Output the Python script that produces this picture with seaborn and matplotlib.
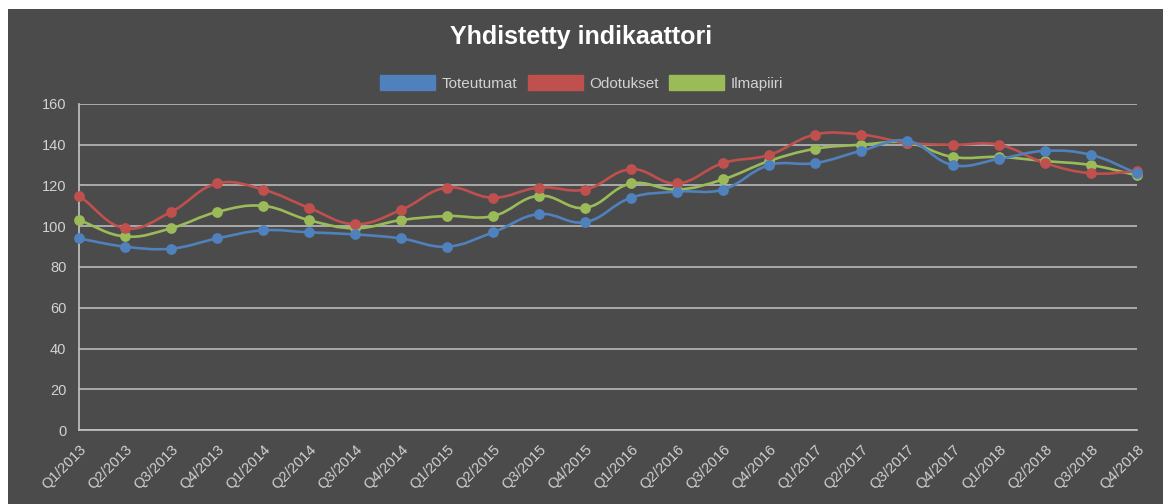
import numpy as np
import pandas as pd
import matplotlib
matplotlib.use("Agg")
import matplotlib.pyplot as plt
from matplotlib.path import Path
from matplotlib.patches import PathPatch, Patch, Rectangle
import seaborn as sns

quarters = ["Q1/2013", "Q2/2013", "Q3/2013", "Q4/2013",
            "Q1/2014", "Q2/2014", "Q3/2014", "Q4/2014",
            "Q1/2015", "Q2/2015", "Q3/2015", "Q4/2015",
            "Q1/2016", "Q2/2016", "Q3/2016", "Q4/2016",
            "Q1/2017", "Q2/2017", "Q3/2017", "Q4/2017",
            "Q1/2018", "Q2/2018", "Q3/2018", "Q4/2018"]

toteutumat = [94, 90, 89, 94, 98, 97, 96, 94, 90, 97, 106, 102,
              114, 117, 118, 130, 131, 137, 142, 130, 133, 137, 135, 126]
odotukset = [115, 99, 107, 121, 118, 109, 101, 108, 119, 114, 119, 118,
             128, 121, 131, 135, 145, 145, 141, 140, 140, 131, 126, 127]
ilmapiiri = [103, 95, 99, 107, 110, 103, 99, 103, 105, 105, 115, 109,
             121, 118, 123, 132, 138, 140, 141, 134, 134, 132, 130, 125]

series_names = ["Toteutumat", "Odotukset", "Ilmapiiri"]
colors = ["#4F81BD", "#C0504D", "#9BBB59"]

bg = "#4b4b4b"
grid_c = "#c4c4c4"
text_c = "#d2d2d2"

sns.set_style("white")
plt.rcParams['font.family'] = ['Liberation Sans', 'DejaVu Sans']

fig = plt.figure(figsize=(11.63, 5.04), dpi=100)
fig.patch.set_facecolor("white")
fig.patches.append(Rectangle((8 / 1163, 0), 1 - 8 / 1163, 1 - 9 / 504,
                             transform=fig.transFigure, facecolor=bg,
                             edgecolor="none", zorder=-5))

ax = fig.add_axes([79 / 1163, 1 - 430 / 504, (1137 - 79) / 1163, (430 - 104) / 504])
ax.set_facecolor(bg)
ax.patch.set_alpha(0)

xs = np.arange(len(quarters))
px_x = 46.0
px_y = 326.0 / 160.0


def spline_path(x, y, t=0.4):
    # chart.js style bezier control points, computed in pixel space
    X = np.asarray(x, float) * px_x
    Y = np.asarray(y, float) * px_y
    n = len(X)
    cp_prev = np.zeros((n, 2))
    cp_next = np.zeros((n, 2))
    for i in range(n):
        p = max(i - 1, 0)
        q = min(i + 1, n - 1)
        d01 = np.hypot(X[i] - X[p], Y[i] - Y[p])
        d12 = np.hypot(X[q] - X[i], Y[q] - Y[i])
        tot = d01 + d12
        s01 = d01 / tot if tot else 0
        s12 = d12 / tot if tot else 0
        fa, fb = t * s01, t * s12
        cp_prev[i] = (X[i] - fa * (X[q] - X[p]), Y[i] - fa * (Y[q] - Y[p]))
        cp_next[i] = (X[i] + fb * (X[q] - X[p]), Y[i] + fb * (Y[q] - Y[p]))
    verts = [(X[0], Y[0])]
    codes = [Path.MOVETO]
    for i in range(n - 1):
        verts += [tuple(cp_next[i]), tuple(cp_prev[i + 1]), (X[i + 1], Y[i + 1])]
        codes += [Path.CURVE4] * 3
    verts = [(vx / px_x, vy / px_y) for vx, vy in verts]
    return Path(verts, codes)


df = pd.DataFrame({"x": np.tile(xs, 3),
                   "value": toteutumat + odotukset + ilmapiiri,
                   "series": np.repeat(series_names, len(quarters))})

# last dataset drawn first, so Toteutumat ends up on top
for name, col in reversed(list(zip(series_names, colors))):
    sub = df[df["series"] == name]
    ax.add_patch(PathPatch(spline_path(sub["x"], sub["value"]), facecolor="none",
                           edgecolor=col, lw=1.9, zorder=3, clip_on=False))
    sns.scatterplot(data=sub, x="x", y="value", color=col, s=60,
                    edgecolor=col, linewidth=0, ax=ax, zorder=4, legend=False,
                    clip_on=False)

ax.set_xlim(0, len(quarters) - 1)
ax.set_ylim(0, 160)
ax.set_yticks(range(0, 161, 20))
ax.set_xticks(xs)
ax.set_xticklabels(quarters, rotation=45, ha="right", va="top",
                   rotation_mode="anchor")
ax.set_xlabel("")
ax.set_ylabel("")

for sp in ["top", "right"]:
    ax.spines[sp].set_visible(False)
for sp in ["left", "bottom"]:
    ax.spines[sp].set_color(grid_c)
    ax.spines[sp].set_linewidth(1.2)

ax.yaxis.grid(True, color=grid_c, lw=1.1)
ax.xaxis.grid(False)
ax.set_axisbelow(True)
ax.tick_params(axis="both", colors=grid_c, labelcolor=text_c, length=7,
               width=1.1, labelsize=10.5, direction="out")
ax.tick_params(axis="x", pad=2)
ax.tick_params(axis="y", pad=2)

fig.text(0.5, 1 - 37 / 504, "Yhdistetty indikaattori", ha="center", va="center",
         color="white", fontsize=18, fontweight="bold")

handles = [Patch(facecolor=c, edgecolor=c, label=n) for n, c in zip(series_names, colors)]
fig.legend(handles=handles, loc="center", bbox_to_anchor=(0.5, 1 - 83 / 504),
           ncol=3, frameon=False, fontsize=11, labelcolor=text_c,
           handlelength=3.6, handleheight=1.1, handletextpad=0.4,
           columnspacing=0.7)

fig.savefig("out.png", dpi=100, facecolor=fig.get_facecolor())
